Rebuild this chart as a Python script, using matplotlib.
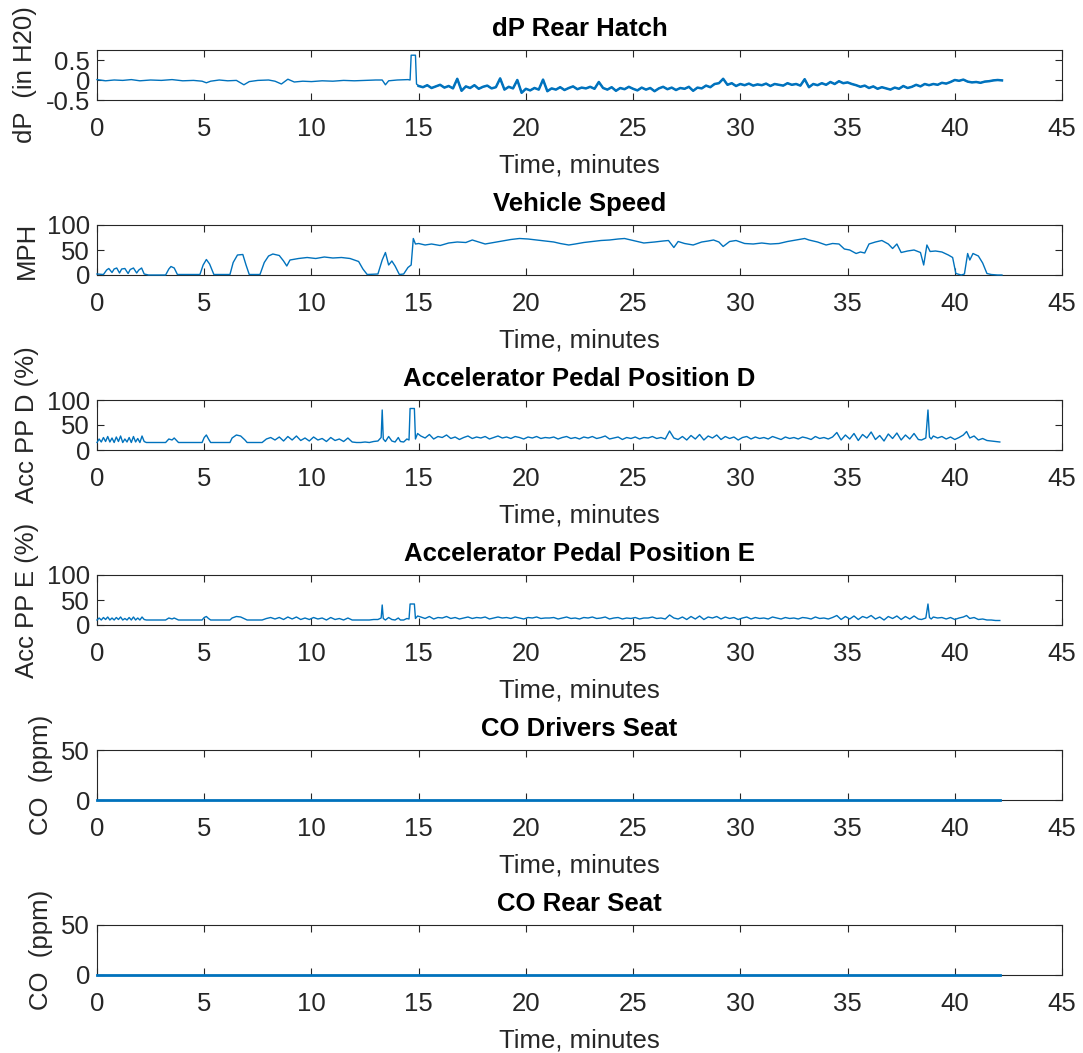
import matplotlib
matplotlib.use('Agg')
import matplotlib.pyplot as plt
import numpy as np

# ---- data (time in minutes) ----
# dP rear hatch, in H2O
t_dp_early = [0, 0.4, 0.8, 1.2, 1.6, 2.0, 2.5, 3.0, 3.5, 4.0, 4.5,
              4.9, 5.1, 5.3, 5.7, 6.1, 6.5, 6.85, 7.1, 7.5,
              8.0, 8.3, 8.6, 8.9, 9.2, 9.6, 10.0, 10.5, 11.0, 11.5, 12.0, 12.5, 13.0,
              13.3, 13.45, 13.6, 14.0, 14.5, 14.6, 14.65, 14.85, 14.9]
dp_early = [0.01, -0.02, 0.0, -0.01, 0.01, -0.02, 0.0, -0.01, 0.01, -0.02, -0.01,
            -0.03, -0.07, -0.03, 0.0, -0.02, -0.01, -0.12, -0.04, -0.01,
            0.0, -0.03, -0.1, 0.02, -0.05, -0.03, -0.04, -0.02, -0.03, -0.01, -0.02, -0.01, 0.0,
            0.0, -0.12, -0.02, 0.0, 0.01, 0.0, 0.62, 0.62, -0.1]
# sampled every 0.2 min from 15.0 to 42.2
dp_late = [-0.15, -0.18, -0.13, -0.2, -0.16, -0.12, -0.19, -0.15, -0.21, 0.03,
           -0.27, -0.16, -0.2, -0.13, -0.22, -0.17, -0.14, -0.21, -0.18, 0.04,
           -0.24, -0.17, -0.21, 0.0, -0.32, -0.22, -0.26, -0.2, -0.24, 0.01,
           -0.28, -0.21, -0.24, -0.18, -0.25, -0.2, -0.16, -0.23, -0.19, -0.21,
           -0.17, -0.22, -0.05, -0.2, -0.24, -0.18, -0.27, -0.2, -0.23, -0.17,
           -0.22, -0.26, -0.19, -0.24, -0.2, -0.28, -0.21, -0.17, -0.23, -0.19,
           -0.25, -0.2, -0.22, -0.17, -0.27, -0.19, -0.21, -0.14, -0.18, -0.1,
           -0.08, 0.03, -0.12, -0.08, -0.15, -0.1, -0.13, -0.09, -0.14, -0.11,
           -0.13, -0.09, -0.15, -0.1, -0.12, -0.14, -0.08, -0.12, -0.1, -0.14,
           0.02, -0.18, -0.1, -0.13, -0.08, -0.12, -0.05, -0.1, -0.03, -0.08,
           -0.06, -0.1, -0.13, -0.17, -0.14, -0.2, -0.16, -0.22, -0.18, -0.21,
           -0.24, -0.19, -0.22, -0.15, -0.2, -0.17, -0.12, -0.16, -0.1, -0.13,
           -0.1, -0.12, -0.07, -0.09, -0.05, 0.0, -0.02, 0.01, -0.04, -0.06,
           -0.05, -0.07, -0.04, -0.03, -0.01, 0.0, -0.01]

# vehicle speed, MPH
t_speed = [0, 0.3, 0.45, 0.55, 0.7, 0.8, 0.92, 1.05, 1.15, 1.3,
           1.45, 1.55, 1.7, 1.85, 1.95, 2.08, 2.2, 2.4, 3.2, 3.35,
           3.45, 3.6, 3.75, 4.8, 4.95, 5.1, 5.25, 5.45, 6.2, 6.35,
           6.55, 6.8, 6.95, 7.1, 7.6, 7.8, 8.0, 8.2, 8.5, 8.7,
           8.85, 9.0, 9.4, 9.8, 10.2, 10.6, 11.0, 11.4, 11.8, 12.2,
           12.4, 12.6, 13.1, 13.3, 13.45, 13.6, 13.75, 13.9, 14.1, 14.3,
           14.5, 14.65, 14.75, 14.85, 15.0, 15.3, 15.6, 16.0, 16.4, 16.8,
           17.2, 17.5, 17.8, 18.1, 18.5, 18.9, 19.3, 19.7, 20.1, 20.5,
           20.9, 21.3, 21.6, 22.0, 22.3, 22.7, 23.1, 23.5, 23.9, 24.3,
           24.6, 25.0, 25.5, 26.0, 26.4, 26.65, 26.9, 27.1, 27.4, 27.8,
           28.2, 28.5, 28.75, 29.0, 29.2, 29.5, 29.8, 30.2, 30.6, 31.0,
           31.4, 31.8, 32.2, 32.6, 33.0, 33.2, 33.6, 34.0, 34.3, 34.6,
           34.85, 35.1, 35.4, 35.6, 35.8, 36.0, 36.3, 36.6, 36.9, 37.1,
           37.3, 37.5, 37.8, 38.1, 38.4, 38.55, 38.7, 38.85, 39.1, 39.4,
           39.7, 39.9, 40.05, 40.3, 40.45, 40.6, 40.7, 40.85, 41.1, 41.3,
           41.5, 41.7, 42.0, 42.2]
speed = [2, 1, 10, 13, 5, 12, 14, 4, 12, 13,
         3, 11, 14, 4, 10, 14, 2, 0, 0, 12,
         17, 14, 1, 1, 20, 31, 22, 1, 1, 25,
         40, 41, 20, 1, 1, 25, 38, 42, 39, 28,
         18, 30, 33, 35, 33, 36, 34, 35, 33, 27,
         12, 1, 2, 30, 45, 20, 28, 18, 1, 2,
         15, 20, 73, 62, 63, 60, 62, 59, 64, 66,
         65, 70, 66, 62, 65, 68, 71, 73, 72, 70,
         68, 66, 63, 60, 62, 65, 67, 69, 70, 72,
         73, 69, 64, 66, 68, 69, 55, 67, 63, 60,
         66, 68, 70, 66, 57, 67, 69, 63, 62, 64,
         62, 63, 67, 70, 73, 70, 66, 60, 63, 62,
         52, 50, 43, 46, 44, 62, 66, 69, 62, 53,
         62, 45, 48, 50, 45, 20, 60, 47, 48, 46,
         40, 35, 3, 0, 2, 43, 30, 43, 38, 24,
         3, 1, 0, 0]

# accelerator pedal positions D and E, %
t_pedal_early = [0, 0.1, 0.2, 0.3, 0.4, 0.5, 0.6, 0.7, 0.8, 0.9,
                 1.0, 1.1, 1.2, 1.3, 1.4, 1.5, 1.6, 1.7, 1.8, 1.9,
                 2.0, 2.1, 2.2, 2.3, 3.2, 3.35, 3.5, 3.6, 3.8, 4.9,
                 5.0, 5.1, 5.2, 5.3, 6.2, 6.3, 6.5, 6.7, 6.9, 7.0,
                 7.7, 7.9, 8.1, 8.3, 8.5, 8.7, 8.9, 9.1, 9.3, 9.5,
                 9.7, 9.9, 10.1, 10.3, 10.5, 10.7, 10.9, 11.1, 11.3, 11.5,
                 11.7, 11.9, 12.1, 12.3, 12.5, 12.7, 12.9, 13.1, 13.25, 13.3,
                 13.35, 13.45, 13.6, 13.75, 13.9, 14.05, 14.15, 14.3, 14.45, 14.55,
                 14.6, 14.8, 14.85, 14.95]
pedal_d_early = [15, 22, 16, 25, 17, 27, 16, 24, 15, 26,
                 17, 28, 15, 22, 16, 25, 15, 27, 16, 23,
                 15, 28, 17, 15, 15, 22, 20, 24, 15, 15,
                 25, 30, 22, 15, 15, 24, 30, 28, 20, 15,
                 15, 22, 25, 20, 26, 18, 27, 20, 28, 19,
                 24, 18, 26, 20, 23, 17, 25, 19, 22, 17,
                 24, 16, 15, 15, 16, 15, 17, 18, 25, 80,
                 22, 17, 27, 18, 16, 25, 17, 16, 22, 20,
                 83, 83, 22, 33]
pedal_e_early = [10, 14, 10, 15, 11, 16, 10, 14, 10, 15,
                 11, 16, 10, 13, 10, 15, 10, 16, 10, 14,
                 10, 16, 11, 10, 10, 14, 12, 14, 10, 10,
                 15, 17, 13, 10, 10, 14, 17, 16, 12, 10,
                 10, 13, 15, 12, 15, 11, 16, 12, 16, 11,
                 14, 11, 15, 12, 14, 10, 15, 11, 13, 10,
                 14, 10, 10, 10, 10, 10, 11, 11, 14, 40,
                 13, 10, 15, 11, 10, 14, 10, 10, 13, 12,
                 42, 42, 13, 18]
# sampled every 0.2 min from 15.1 to 38.3
pedal_d_mid = [28, 24, 31, 22, 27, 25, 30, 23, 26, 21,
               25, 28, 23, 26, 24, 27, 22, 25, 28, 24,
               26, 23, 27, 25, 22, 26, 24, 27, 23, 25,
               24, 26, 22, 25, 27, 23, 25, 22, 26, 24,
               27, 23, 25, 28, 22, 24, 26, 21, 25, 23,
               26, 22, 25, 24, 27, 23, 25, 22, 38, 24,
               21, 27, 20, 29, 22, 31, 20, 28, 24, 30,
               21, 27, 23, 26, 20, 25, 27, 22, 26, 23,
               25, 22, 27, 24, 21, 26, 23, 25, 22, 26,
               24, 21, 27, 23, 25, 22, 26, 35, 20, 30,
               22, 33, 19, 31, 24, 36, 21, 29, 18, 32,
               23, 34, 20, 30, 22, 33, 21]
pedal_e_mid = [16, 13, 17, 12, 15, 14, 17, 13, 15, 12,
               14, 16, 13, 15, 14, 16, 12, 14, 16, 14,
               15, 13, 16, 14, 12, 15, 14, 16, 13, 14,
               14, 15, 12, 14, 16, 13, 14, 12, 15, 14,
               16, 13, 14, 16, 12, 14, 15, 12, 14, 13,
               15, 12, 14, 14, 16, 13, 14, 12, 20, 14,
               12, 16, 11, 17, 12, 18, 11, 16, 14, 17,
               12, 16, 13, 15, 11, 14, 16, 12, 15, 13,
               14, 12, 16, 14, 12, 15, 13, 14, 12, 15,
               14, 12, 16, 13, 14, 12, 15, 19, 11, 17,
               12, 18, 11, 17, 14, 19, 12, 16, 10, 17,
               13, 18, 11, 17, 12, 18, 12]
t_pedal_tail = [38.45, 38.65, 38.75, 38.82, 38.9, 39.0, 39.2, 39.4, 39.6, 39.8,
                40.0, 40.2, 40.4, 40.55, 40.7, 40.9, 41.1, 41.3, 41.5, 41.7,
                41.9, 42.1]
pedal_d_tail = [20, 24, 80, 26, 22, 28, 24, 27, 22, 26,
                21, 25, 30, 37, 24, 28, 20, 23, 19, 18,
                17, 16]
pedal_e_tail = [11, 14, 42, 15, 12, 16, 14, 15, 12, 15,
                11, 14, 16, 19, 13, 15, 11, 12, 10, 10,
                9, 9]

# CO, ppm (flat near zero)
t_co = [0, 10, 20, 30, 42.1]
co_driver = [0.4, 0.4, 0.4, 0.4, 0.4]
co_rear = [0.4, 0.4, 0.4, 0.4, 0.4]

titles = ['dP Rear Hatch', 'Vehicle Speed', 'Accelerator Pedal Position D',
          'Accelerator Pedal Position E', 'CO Drivers Seat', 'CO Rear Seat']
ylabels = ['dP  (in H20)', 'MPH', 'Acc PP D (%)', 'Acc PP E (%)', 'CO  (ppm)', 'CO  (ppm)']

# ---- assemble series ----
t_dp_late = np.linspace(15.0, 42.2, len(dp_late))
t_dp = np.concatenate([t_dp_early, t_dp_late])
dp = np.concatenate([dp_early, dp_late])
t_pedal = np.concatenate([t_pedal_early, np.linspace(15.1, 38.3, len(pedal_d_mid)), t_pedal_tail])
pedal_d = np.concatenate([pedal_d_early, pedal_d_mid, pedal_d_tail])
pedal_e = np.concatenate([pedal_e_early, pedal_e_mid, pedal_e_tail])

series = [(t_dp, dp), (t_speed, speed), (t_pedal, pedal_d), (t_pedal, pedal_e),
          (t_co, co_driver), (t_co, co_rear)]
ylims = [(-0.5, 0.75), (0, 100), (0, 100), (0, 100), (0, 50), (0, 50)]
yticks = [[-0.5, 0, 0.5], [0, 50, 100], [0, 50, 100], [0, 50, 100], [0, 50], [0, 50]]
widths = [1.0, 1.0, 1.0, 1.0, 2.0, 2.0]

plt.rcParams['font.family'] = ['Liberation Sans', 'DejaVu Sans']
plt.rcParams['axes.unicode_minus'] = False

W, H = 1083, 1053
fig = plt.figure(figsize=(W / 100, H / 100), dpi=100)
fig.patch.set_facecolor('white')

line_color = '#0072BD'
text_color = '#262626'
fs = 18.5

for i in range(6):
    top_px = 50 + 175 * i
    ax = fig.add_axes([97 / W, 1 - (top_px + 50) / H, 965 / W, 50 / H])
    t, v = series[i]
    ax.plot(t, v, color=line_color, linewidth=widths[i], zorder=3, clip_on=False)
    if i == 0:
        # the dense part after 15 min reads as a thicker band
        ax.plot(t_dp_late, dp_late, color=line_color, linewidth=1.8, zorder=3)
    ax.set_xlim(0, 45)
    ax.set_ylim(*ylims[i])
    ax.set_xticks(range(0, 46, 5))
    ax.set_yticks(yticks[i])
    ax.set_yticklabels(['%g' % y for y in yticks[i]])
    ax.tick_params(direction='in', top=True, right=True, length=5, width=0.8,
                   labelsize=fs, labelcolor=text_color, color=text_color)
    ax.tick_params(axis='x', pad=12)
    ax.tick_params(axis='y', pad=5)
    for s in ax.spines.values():
        s.set_color(text_color)
        s.set_linewidth(0.8)
    ax.set_title(titles[i], fontsize=fs, fontweight='bold', color='black', pad=10)
    ax.set_xlabel('Time, minutes', fontsize=fs, color=text_color, labelpad=9)
    ax.set_ylabel(ylabels[i], fontsize=fs, color=text_color, labelpad=6)

fig.savefig('out.png', dpi=100, facecolor='white')
